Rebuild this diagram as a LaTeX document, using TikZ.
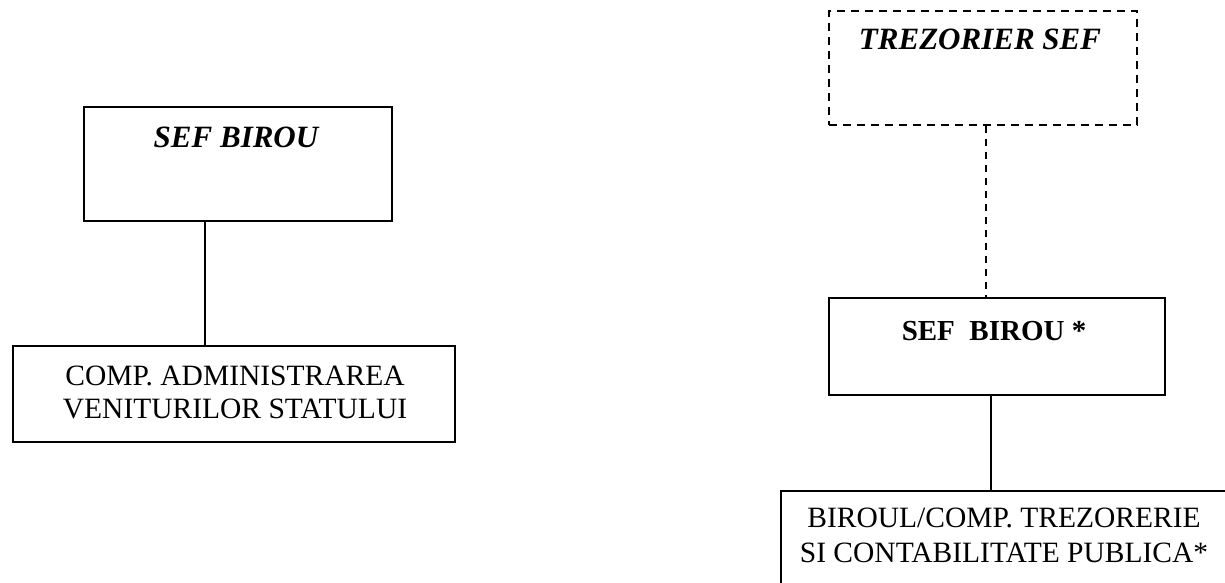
\documentclass[tikz,border=0pt]{standalone}
\usepackage{fontspec}
\setmainfont{Liberation Serif}
\begin{document}
\begin{tikzpicture}[x=1pt,y=-1pt,
  boxstyle/.style={draw=black,line width=1.6pt,rectangle,inner sep=0pt},
  dashbox/.style={boxstyle,dash pattern=on 8pt off 6pt},
  txt/.style={anchor=base,inner sep=0pt,font=\fontsize{29.5}{33}\selectfont},
  titleit/.style={anchor=base,inner sep=0pt,font=\fontsize{31}{35}\selectfont\bfseries\itshape},
  titlebf/.style={anchor=base,inner sep=0pt,font=\fontsize{29}{33}\selectfont\bfseries},
  link/.style={draw=black,line width=1.6pt},
  dlink/.style={link,dash pattern=on 7pt off 6pt}]
\useasboundingbox (0,0) rectangle (1225,583);
\clip (0,0) rectangle (1225,583);
% left branch
\node[boxstyle,minimum width=308pt,minimum height=114pt] (b1) at (238,164) {};
\node[titleit] (t1) at (236,147) {SEF BIROU};
\node[boxstyle,minimum width=442pt,minimum height=96pt] (b2) at (234,394) {};
\node[txt] (b2a) at (235,385) {COMP. ADMINISTRAREA};
\node[txt] (b2b) at (235,418) {VENITURILOR STATULUI};
\draw[link] (205,0 |- b1.south) -- (205,0 |- b2.north);
% right branch
\node[dashbox,minimum width=308pt,minimum height=114pt] (t) at (983,68) {};
\node[titleit] (tt) at (980,50) {TREZORIER SEF};
\node[boxstyle,minimum width=336pt,minimum height=97pt] (b3) at (997,346.5) {};
\node[titlebf] (t3) at (994,340) {SEF\ \ BIROU *};
\node[boxstyle,minimum width=459pt,minimum height=109pt] (b4) at (1010.5,545.5) {};
\node[txt] (b4a) at (1004,527) {BIROUL/COMP. TREZORERIE};
\node[txt] (b4b) at (1004,562) {SI CONTABILITATE PUBLICA*};
\draw[dlink] (986,0 |- t.south) -- (986,0 |- b3.north);
\draw[link] (991,0 |- b3.south) -- (991,0 |- b4.north);
\end{tikzpicture}
\end{document}
